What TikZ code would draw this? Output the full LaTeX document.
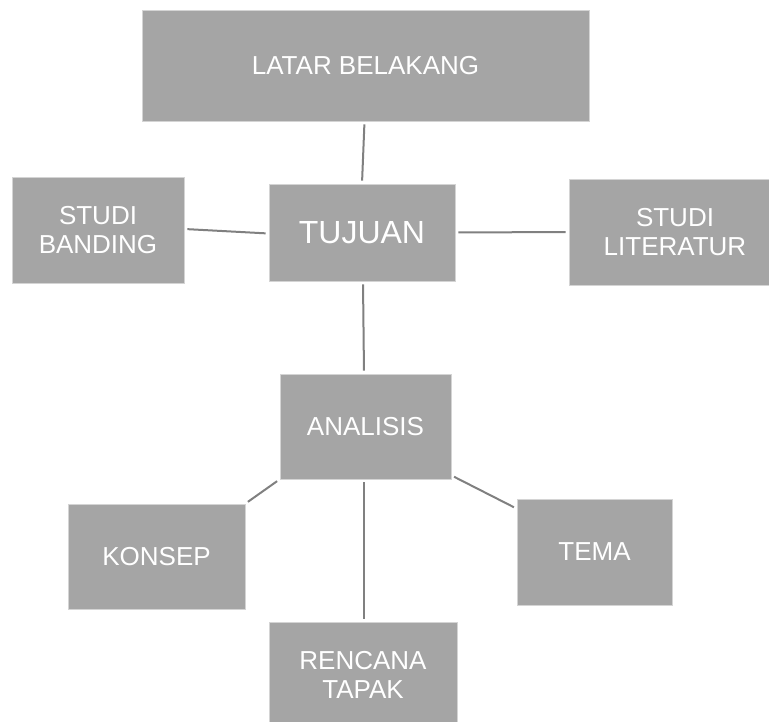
\documentclass[tikz,border=0pt]{standalone}
\usepackage{fontspec}
\setmainfont{Liberation Sans}
\definecolor{boxfill}{HTML}{A5A5A5}
\definecolor{boxedge}{HTML}{D4D4D4}
\definecolor{linkcol}{HTML}{808080}
\tikzset{
  gbox/.style={rectangle, fill=boxfill, draw=boxedge, line width=0.8pt, text=white,
    align=center, inner sep=0pt, font=\fontsize{26}{29}\selectfont},
  link/.style={draw=linkcol, line width=2pt, shorten <=3pt, shorten >=3pt}
}
\begin{document}
\begin{tikzpicture}[x=1pt,y=-1pt]
\useasboundingbox (0,0) rectangle (769,722);
\clip (0,0) rectangle (769,722);
\node[gbox, minimum width=447pt, minimum height=111pt] (lb) at (365.5,65.5) {LATAR BELAKANG};
\node[gbox, minimum width=172pt, minimum height=106pt] (sb) at (98,230) {STUDI\\BANDING};
\node[gbox, minimum width=186pt, minimum height=97pt, font=\fontsize{32}{36}\selectfont] (tj) at (362,232.5) {TUJUAN};
\node[gbox, minimum width=212pt, minimum height=106pt] (sl) at (675,232) {STUDI\\LITERATUR};
\node[gbox, minimum width=171pt, minimum height=105pt] (an) at (365.5,426.5) {ANALISIS};
\node[gbox, minimum width=177pt, minimum height=105pt] (ks) at (156.5,556.5) {KONSEP};
\node[gbox, minimum width=155pt, minimum height=106pt] (tm) at (594.5,552) {TEMA};
\node[gbox, minimum width=188pt, minimum height=105pt] (rt) at (363,674.5) {RENCANA\\TAPAK};
\draw[link] ([xshift=-1pt]lb.south) -- (tj.north);
\draw[link] ([yshift=1pt]sb.east) -- ([yshift=-1pt]tj.west);
\draw[link] (tj.east) -- (sl.west);
\draw[link] ([xshift=1pt]tj.south) -- ([xshift=-1.5pt]an.north);
\draw[link] (an.south west) -- (ks.north east);
\draw[link] ([yshift=4pt]an.south east) -- ([yshift=-10pt]tm.north west);
\draw[link] ([xshift=-1.5pt]an.south) -- ([xshift=1pt]rt.north);
\end{tikzpicture}
\end{document}
